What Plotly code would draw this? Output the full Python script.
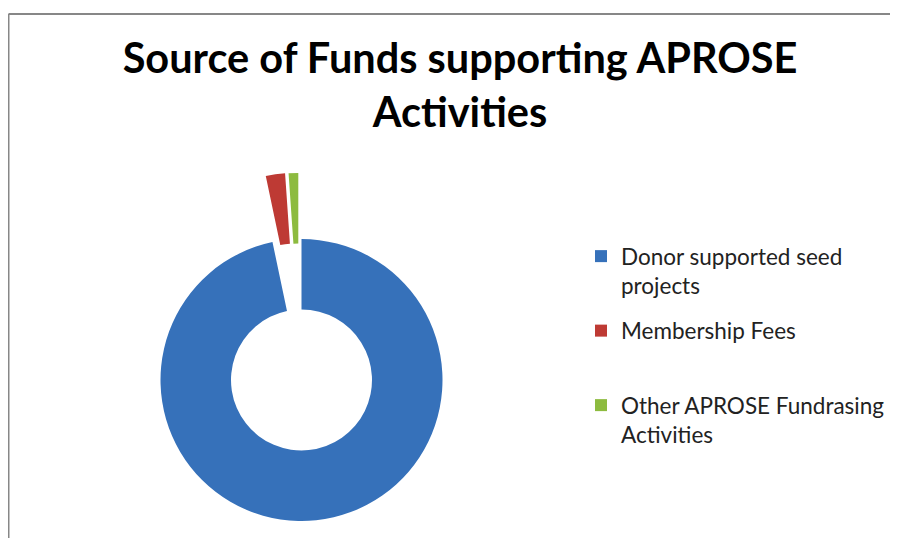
import plotly.graph_objects as go

# ---- data ----
labels = ["Donor supported seed<br>projects", "Membership Fees<br> ", "Other APROSE Fundrasing<br>Activities"]
values = [96.7, 2.2, 1.1]
colors = ["#3671BA", "#BE3A34", "#8DBB3F"]
pulled = [False, True, True]
title_text = "Source of Funds supporting APROSE<br>Activities"

# ---- layout geometry (pixels, screen coords; page body adds an 8px margin) ----
W, H = 898, 538
OFF = 8
CX, CY, R = 301.5 - OFF, 380.0 - OFF, 141.0
shifts = [(0.0, 0.0), (-6.7, -66.0), (-3.2, -66.0)]
TRANSPARENT = "rgba(0,0,0,0)"
FONT = "Lato"


def dom(cx, cy, r):
    return dict(x=[(cx - r) / W, (cx + r) / W],
                y=[(H - cy - r) / H, (H - cy + r) / H])


fig = go.Figure()

# legend carriers (tiny, hidden under the ring), one group each for spacing
for i in range(len(labels)):
    fig.add_trace(go.Pie(
        labels=[labels[i]], values=[values[i]],
        marker=dict(colors=[colors[i]]),
        domain=dom(CX, CY + 105, 0.4), sort=False, textinfo="none",
        hoverinfo="skip", legendgroup=f"g{i}", showlegend=True,
    ))

# base ring (non-exploded slices)
fig.add_trace(go.Pie(
    labels=labels, values=values, hole=0.5, sort=False,
    direction="clockwise", rotation=0,
    marker=dict(colors=[c if not p else TRANSPARENT for c, p in zip(colors, pulled)]),
    domain=dom(CX, CY, R), textinfo="none", showlegend=False,
    hovertemplate="%{label}: %{value}<extra></extra>",
))

# exploded slices
for i, p in enumerate(pulled):
    if not p:
        continue
    dx, dy = shifts[i]
    fig.add_trace(go.Pie(
        labels=labels, values=values, hole=0.5, sort=False,
        direction="clockwise", rotation=0,
        marker=dict(colors=[colors[j] if j == i else TRANSPARENT for j in range(len(labels))]),
        domain=dom(CX + dx, CY + dy, R), textinfo="none", showlegend=False,
        hovertemplate="%{label}: %{value}<extra></extra>",
    ))

fig.update_layout(
    width=W, height=H,
    margin=dict(l=0, r=0, t=0, b=0),
    paper_bgcolor="white", plot_bgcolor="white",
    font=dict(family=FONT, color="#000000"),
    title=dict(text=title_text, x=452 / W, xanchor="center",
               y=1 - 65 / H, yanchor="top",
               font=dict(family=FONT, size=41.5, weight=700, color="#000000")),
    legend=dict(x=573 / W, xanchor="left", y=1 - 227 / H, yanchor="top",
                font=dict(family=FONT, size=22.5, color="#222222"),
                valign="top", traceorder="grouped", tracegroupgap=13,
                bgcolor="rgba(0,0,0,0)"),
    shapes=[
        dict(type="line", xref="paper", yref="paper", x0=0.5 / W, x1=1, y0=1 - 6 / H, y1=1 - 6 / H,
             line=dict(color="#878787", width=2)),
        dict(type="line", xref="paper", yref="paper", x0=0.5 / W, x1=0.5 / W, y0=0, y1=1 - 6 / H,
             line=dict(color="#878787", width=2)),
    ],
)

fig.write_html("out.html")
